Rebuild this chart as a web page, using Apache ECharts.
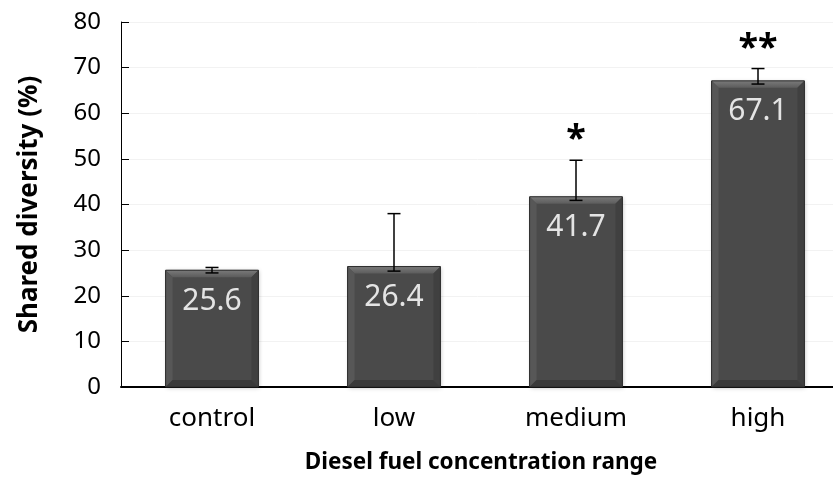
<!DOCTYPE html>
<html>
<head>
<meta charset="utf-8">
<script src="https://cdn.jsdelivr.net/npm/echarts@6/dist/echarts.min.js"></script>
<style>
  html, body { margin: 0; padding: 0; background: #fff; }
  #main { width: 833px; height: 483px; }
</style>
</head>
<body>
<div id="main"></div>
<script>
const categories = ['control', 'low', 'medium', 'high'];
const values = [25.6, 26.4, 41.7, 67.1];
const errUp = [0.6, 11.6, 8.0, 2.7];
const errDown = [0.6, 1.0, 0.8, 0.7];
const stars = ['', '', '*', '**'];

const FONT = "'Noto Sans', 'Open Sans', sans-serif";
const BAR_RATIO = 0.51;

const chart = echarts.init(document.getElementById('main'));

// bevel + error bars + significance marks
function renderExtra(params, api) {
    const i = api.value(0);
    const v = api.value(1);
    const up = api.value(2);
    const down = api.value(3);
    const top = api.coord([i, v]);
    const base = api.coord([i, 0]);
    const w = api.size([1, 0])[0] * BAR_RATIO;
    const cx = top[0];
    const x0 = cx - w / 2, x1 = cx + w / 2;
    const y0 = top[1], yB = base[1];
    const b = 7;
    const children = [
        {
            type: 'polygon',
            shape: { points: [[x0, y0], [x1, y0], [x1 - b, y0 + b], [x0 + b, y0 + b]] },
            style: {
                fill: new echarts.graphic.LinearGradient(0, 0, 0, 1, [
                    { offset: 0, color: '#7a7a7a' },
                    { offset: 1, color: '#5c5c5c' }
                ])
            }
        },
        {
            type: 'polygon',
            shape: { points: [[x0, y0], [x0 + b, y0 + b], [x0 + b, yB - b], [x0, yB]] },
            style: { fill: '#575757' }
        },
        {
            type: 'polygon',
            shape: { points: [[x1, y0], [x1 - b, y0 + b], [x1 - b, yB - b], [x1, yB]] },
            style: { fill: '#404040' }
        },
        {
            type: 'polygon',
            shape: { points: [[x0, yB], [x0 + b, yB - b], [x1 - b, yB - b], [x1, yB]] },
            style: { fill: '#3a3a3a' }
        },
        {
            type: 'rect',
            shape: { x: x0, y: y0, width: w, height: yB - y0 },
            style: { fill: null, stroke: '#2b2b2b', lineWidth: 1 }
        }
    ];
    const yHi = api.coord([i, v + up])[1];
    const yLo = api.coord([i, v - down])[1];
    const cap = 6.5;
    const errStyle = { stroke: '#000', lineWidth: 1.5 };
    children.push(
        { type: 'line', shape: { x1: cx, y1: yHi, x2: cx, y2: yLo }, style: errStyle },
        { type: 'line', shape: { x1: cx - cap, y1: yHi, x2: cx + cap, y2: yHi }, style: errStyle },
        { type: 'line', shape: { x1: cx - cap, y1: yLo, x2: cx + cap, y2: yLo }, style: errStyle }
    );
    const s = stars[i];
    if (s) {
        children.push({
            type: 'text',
            x: cx,
            y: yHi - 20,
            style: {
                text: s,
                fill: '#000',
                font: 'bold 36px ' + FONT,
                align: 'center',
                verticalAlign: 'middle'
            }
        });
    }
    return { type: 'group', children: children };
}

const option = {
    backgroundColor: '#fff',
    animation: false,
    grid: { left: 121, width: 728, top: 22, bottom: 96, outerBoundsMode: 'none' },
    xAxis: {
        type: 'category',
        data: categories,
        name: 'Diesel fuel concentration range',
        nameLocation: 'middle',
        nameGap: 64,
        nameTextStyle: { fontFamily: FONT, fontSize: 22.5, fontWeight: 'bold', color: '#000', padding: [0, 8, 0, 0] },
        axisLine: { lineStyle: { color: '#000', width: 2 } },
        axisTick: { show: false },
        axisLabel: { fontFamily: FONT, fontSize: 26, color: '#000', margin: 19 }
    },
    yAxis: {
        type: 'value',
        min: 0,
        max: 80,
        interval: 10,
        name: 'Shared diversity (%)',
        nameLocation: 'middle',
        nameGap: 78,
        nameTextStyle: { fontFamily: FONT, fontSize: 26, fontWeight: 'bold', color: '#000' },
        axisLine: { show: true, lineStyle: { color: '#000', width: 1 } },
        axisTick: { show: true, inside: true, length: 8, lineStyle: { color: '#000' } },
        axisLabel: { fontFamily: FONT, fontSize: 24, color: '#000', margin: 20 },
        splitLine: { show: true, lineStyle: { color: '#f2f2f2' } }
    },
    series: [
        {
            type: 'bar',
            data: values,
            barWidth: (BAR_RATIO * 100) + '%',
            z: 2,
            itemStyle: {
                color: '#4a4a4a',
                shadowColor: 'rgba(0,0,0,0.25)',
                shadowBlur: 4,
                shadowOffsetX: 1,
                shadowOffsetY: 1
            },
            label: {
                show: true,
                position: 'insideTop',
                distance: 16,
                color: '#e4e4e4',
                fontFamily: FONT,
                fontSize: 30
            }
        },
        {
            type: 'custom',
            z: 3,
            silent: true,
            renderItem: renderExtra,
            data: categories.map((c, i) => [i, values[i], errUp[i], errDown[i]])
        }
    ]
};

chart.setOption(option);
</script>
</body>
</html>
